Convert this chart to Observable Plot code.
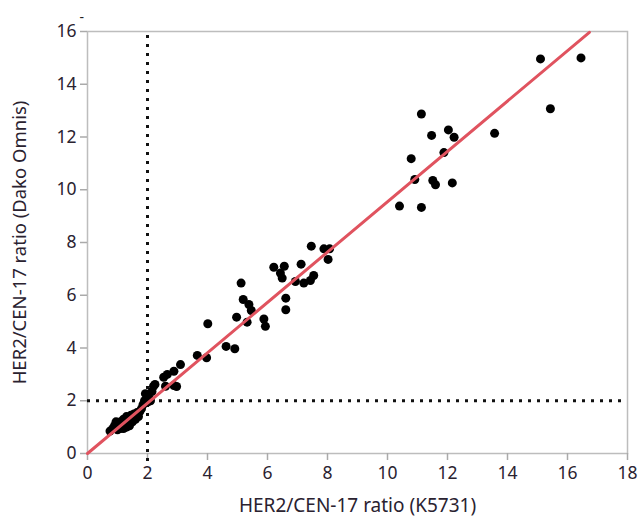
<!DOCTYPE html>
<html>
<head>
<meta charset="utf-8">
<script src="https://cdn.jsdelivr.net/npm/d3@7"></script>
<script src="https://cdn.jsdelivr.net/npm/@observablehq/plot@0.6"></script>
<style>
  html, body { margin: 0; padding: 0; background: #fff; }
  #chart { width: 643px; height: 520px; }
</style>
</head>
<body>
<div id="chart"></div>
<script>
// HER2/CEN-17 ratio: K5731 (x) vs Dako Omnis (y)
const k5731 = [
  0.75,0.85,0.9,0.95,1.0,1.0,1.05,1.1,1.1,1.15,1.2,1.2,1.25,1.3,1.3,1.35,1.4,1.4,1.45,1.5,1.5,
  1.55,1.6,1.65,1.7,1.75,1.8,1.85,1.9,0.95,1.2,
  1.93,2.0,2.05,2.1,2.2,2.25,2.15,
  2.54,2.66,2.88,2.88,2.6,2.97,3.1,3.66,3.97,4.01,4.62,4.91,
  4.97,5.12,5.19,5.32,5.38,5.46,5.88,5.93,
  6.21,6.43,6.49,6.56,6.61,6.61,6.93,7.12,7.21,7.43,7.46,7.54,7.88,8.02,8.07,
  10.4,10.79,10.91,11.13,11.13,11.47,11.51,11.6,11.88,12.03,12.16,12.22,13.57,15.1,15.43,16.45
];
const dakoOmnis = [
  0.85,0.95,1.05,1.0,0.9,1.1,1.0,1.2,0.95,1.1,1.05,1.3,1.2,1.0,1.4,1.15,1.3,1.05,1.45,1.2,1.35,
  1.5,1.3,1.55,1.4,1.6,1.7,1.85,2.0,1.2,0.95,
  2.27,1.95,2.1,2.0,2.55,2.62,2.35,
  2.89,3.0,3.12,2.58,2.55,2.54,3.37,3.72,3.63,4.92,4.06,3.97,
  5.17,6.46,5.84,4.98,5.65,5.42,5.10,4.82,
  7.06,6.84,6.65,7.10,5.89,5.45,6.52,7.18,6.46,6.56,7.86,6.75,7.76,7.36,7.76,
  9.38,11.18,10.39,12.87,9.33,12.06,10.35,10.19,11.41,12.27,10.26,11.99,12.14,14.96,13.07,15.0
];
const fitX = [0, 16.73];
const fitY = [0, 15.97];
const cutoff = 2;
const xTicks = [0,2,4,6,8,10,12,14,16,18];
const yTicks = [0,2,4,6,8,10,12,14,16];

const points = k5731.map((x, i) => ({x, y: dakoOmnis[i]}));
const fit = fitX.map((x, i) => ({x, y: fitY[i]}));

const font = "'Noto Sans', 'Open Sans', sans-serif";
const chart = Plot.plot({
  width: 643,
  height: 520,
  marginLeft: 87,
  marginRight: 16,
  marginTop: 31,
  marginBottom: 67,
  style: {fontFamily: font, fontSize: "17px", color: "#2a2230", background: "#fff"},
  x: {domain: [0, 18]},
  y: {domain: [0, 16]},
  marks: [
    Plot.frame({stroke: "#bdbdbd", strokeWidth: 1.5}),
    Plot.axisX({ticks: xTicks, tickSize: 7, stroke: "#aaa", strokeWidth: 1.5, tickPadding: 6, fontSize: 17.5,
      label: null}),
    Plot.axisY({ticks: yTicks, tickSize: 7, stroke: "#aaa", strokeWidth: 1.5, tickPadding: 4, fontSize: 17.5,
      label: null}),
    Plot.text(["HER2/CEN-17 ratio (K5731)"], {frameAnchor: "bottom", textAnchor: "middle", dy: 58, fontSize: 19, fill: "#2a2230"}),
    Plot.text(["HER2/CEN-17 ratio (Dako Omnis)"], {frameAnchor: "left", textAnchor: "middle", dx: -67, rotate: -90, fontSize: 18.5, fill: "#2a2230"}),
    Plot.ruleX([cutoff], {y1: -0.3, y2: 16, stroke: "#111", strokeWidth: 3, strokeDasharray: "3,6"}),
    Plot.ruleY([cutoff], {x1: 0, x2: 18, stroke: "#111", strokeWidth: 3, strokeDasharray: "3,6"}),
    Plot.dot(points, {x: "x", y: "y", r: 4.5, fill: "#000", stroke: "none"}),
    Plot.line(fit, {x: "x", y: "y", stroke: "#e0535f", strokeWidth: 3}),
    Plot.text(["-"], {frameAnchor: "top-left", dx: -8, dy: -19, fontSize: 14, fill: "#222"})
  ]
});
document.getElementById("chart").appendChild(chart);
</script>
</body>
</html>
